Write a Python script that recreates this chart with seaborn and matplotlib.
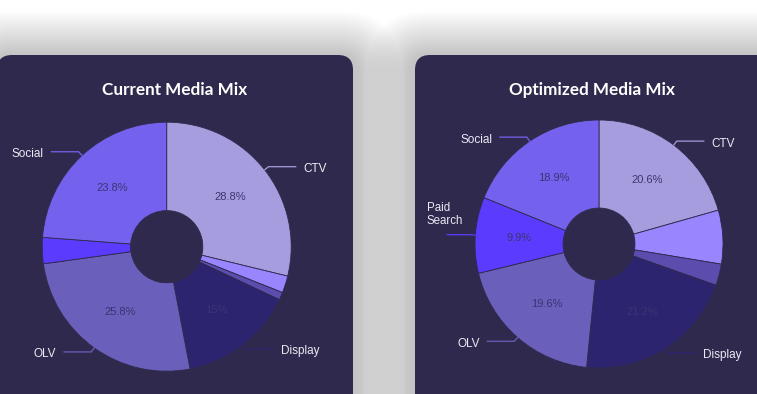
import matplotlib
matplotlib.use("Agg")
import matplotlib.pyplot as plt
import seaborn as sns
import numpy as np
from matplotlib.patches import FancyBboxPatch

sns.set_theme(style="white")
plt.rcParams['font.family'] = ['Liberation Sans', 'DejaVu Sans']

# ---- data ----
channels = ["CTV", "Audio", "Native", "Display", "OLV", "Paid Search", "Social"]
current_share = [28.8, 2.2, 1.0, 15.0, 25.8, 3.4, 23.8]
optimized_share = [20.6, 7.0, 2.8, 21.2, 19.6, 9.9, 18.9]
current_pct_labels = ["28.8%", "", "", "15%", "25.8%", "", "23.8%"]
optimized_pct_labels = ["20.6%", "", "", "21.2%", "19.6%", "9.9%", "18.9%"]
current_names = ["CTV", "", "", "Display", "OLV", "", "Social"]
optimized_names = ["CTV", "", "", "Display", "OLV", "Paid\nSearch", "Social"]
titles = ["Current Media Mix", "Optimized Media Mix"]

colors = ["#a59ddd", "#9985fd", "#5b4cad", "#2d2470", "#6a5fbb", "#5b3cfe", "#7462ee"]
card_color = "#2f2a4d"

W, H = 757, 394
fig = plt.figure(figsize=(W / 100, H / 100), dpi=100)
fig.patch.set_facecolor("white")

bg = fig.add_axes([0, 0, 1, 1])
bg.set_xlim(0, W)
bg.set_ylim(H, 0)
bg.axis("off")

cards = [(-3, 55, 356, 400), (415, 55, 360, 400)]
# soft shadow
for i in range(32, 0, -1):
    for (x, y, w, h) in cards:
        bg.add_patch(FancyBboxPatch((x, y + 4), w, h,
                                    boxstyle=f"round,pad={i * 1.5},rounding_size={15 + i * 1.5}",
                                    facecolor="#888888", edgecolor="none", alpha=0.016))
for (x, y, w, h) in cards:
    bg.add_patch(FancyBboxPatch((x, y), w, h, boxstyle="round,pad=0,rounding_size=15",
                                facecolor=card_color, edgecolor="none"))

bg.text(175, 90, titles[0], ha="center", va="center", color="white",
        fontsize=12.3, fontweight="bold", family=["Lato", "DejaVu Sans"])
bg.text(592, 90, titles[1], ha="center", va="center", color="white",
        fontsize=12.3, fontweight="bold", family=["Lato", "DejaVu Sans"])


def draw_pie(cx, cy, R, values, pct_labels, names):
    ax = fig.add_axes([(cx - R) / W, 1 - (cy + R) / H, 2 * R / W, 2 * R / H])
    ax.set_facecolor("none")
    wedges, _ = ax.pie(values, colors=colors, startangle=90, counterclock=False,
                       radius=1.0, wedgeprops=dict(width=0.71, edgecolor=card_color, linewidth=0.6))
    ax.set_xlim(-1, 1)
    ax.set_ylim(-1, 1)
    ax.set_aspect("equal")
    ax.axis("off")
    for w, p, n, c in zip(wedges, pct_labels, names, colors):
        mid = np.deg2rad((w.theta1 + w.theta2) / 2)
        ux, uy = np.cos(mid), np.sin(mid)
        if p:
            ax.text(0.645 * ux, 0.645 * uy, p, ha="center", va="center",
                    fontsize=8, color="#3c3473")
        if n:
            ex, ey = ux, uy
            bx, by = 1.04 * ux, 1.04 * uy
            side = 1 if ux > 0 else -1
            seg = 0.19 if "\n" in n else 0.22
            lx = bx + side * seg
            ax.plot([ex, bx, lx], [ey, by, by], color=c, lw=0.9, clip_on=False)
            if "\n" in n:
                ax.text(lx - 0.16, by + 0.06, n, ha="left", va="bottom", fontsize=8.3,
                        color="#eceaf4", linespacing=1.1)
            else:
                ax.text(lx + side * 0.06, by - 0.02, n, ha="left" if side > 0 else "right",
                        va="center", fontsize=8.5, color="#eceaf4")
    return ax


draw_pie(166.7, 246.7, 124.5, current_share, current_pct_labels, current_names)
draw_pie(599, 244, 124, optimized_share, optimized_pct_labels, optimized_names)

fig.savefig("out.png", dpi=100, facecolor="white")
